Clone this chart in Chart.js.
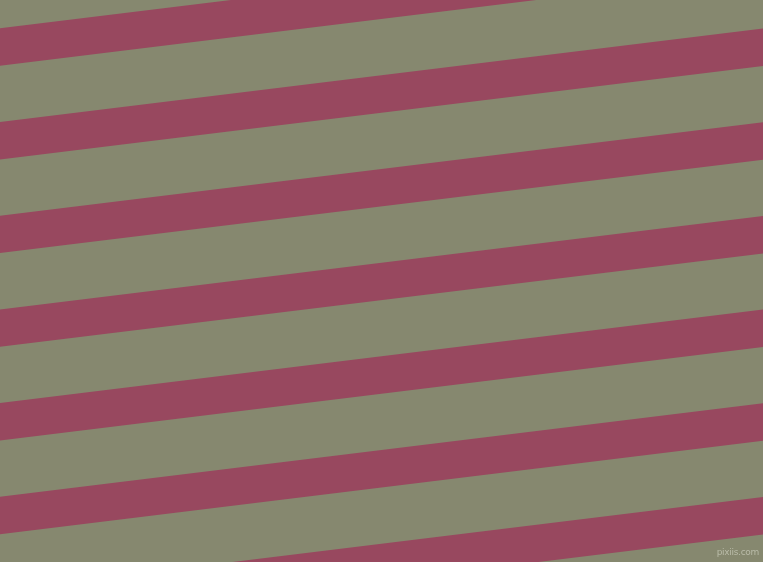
<!DOCTYPE html>
<html>
<head>
<meta charset="utf-8">
<script src="https://cdn.jsdelivr.net/npm/chart.js@4"></script>
<style>
  html, body { margin: 0; padding: 0; background: #86886f; overflow: hidden; }
  #wrap { position: relative; width: 763px; height: 562px; }
  #stripes { display: block; }
  #mark { position: absolute; right: 4px; bottom: 5px; font: 9px "DejaVu Sans", sans-serif; color: #b9bba8; letter-spacing: -0.3px; }
</style>
</head>
<body>
<div id="wrap">
  <canvas id="stripes" width="763" height="562"></canvas>
  <div id="mark">pixiis.com</div>
</div>
<script>
// x positions of the left and right edge of the picture
var edgeX = [0, 763];

// stripe edges (y at left edge, y at right edge)
var topLeft = [28.3, 122.0, 215.7, 309.4, 403.1, 496.8, 590.5];
var topRight = [-65.2, 28.5, 122.2, 215.9, 309.6, 403.3, 497.0];
var bottomLeft = [65.7, 159.4, 253.1, 346.8, 440.5, 534.2, 627.9];
var bottomRight = [-27.8, 66.0, 159.7, 253.4, 347.1, 440.8, 534.5];

var stripeColor = "#98485f";

var datasets = [];
for (var i = 0; i < topLeft.length; i++) {
  datasets.push({
    data: [{ x: edgeX[0], y: topLeft[i] }, { x: edgeX[1], y: topRight[i] }],
    borderWidth: 0,
    pointRadius: 0,
    fill: false
  });
  datasets.push({
    data: [{ x: edgeX[0], y: bottomLeft[i] }, { x: edgeX[1], y: bottomRight[i] }],
    borderWidth: 0,
    pointRadius: 0,
    backgroundColor: stripeColor,
    fill: "-1"
  });
}

var ctx = document.getElementById("stripes").getContext("2d");
var chart = new Chart(ctx, {
  type: "line",
  data: { datasets: datasets },
  options: {
    responsive: false,
    animation: false,
    devicePixelRatio: 1,
    layout: { padding: 0 },
    plugins: { legend: { display: false }, tooltip: { enabled: false } },
    scales: {
      x: { type: "linear", min: 0, max: 763, display: false },
      y: { type: "linear", min: 0, max: 562, reverse: true, display: false }
    }
  }
});
</script>
</body>
</html>
